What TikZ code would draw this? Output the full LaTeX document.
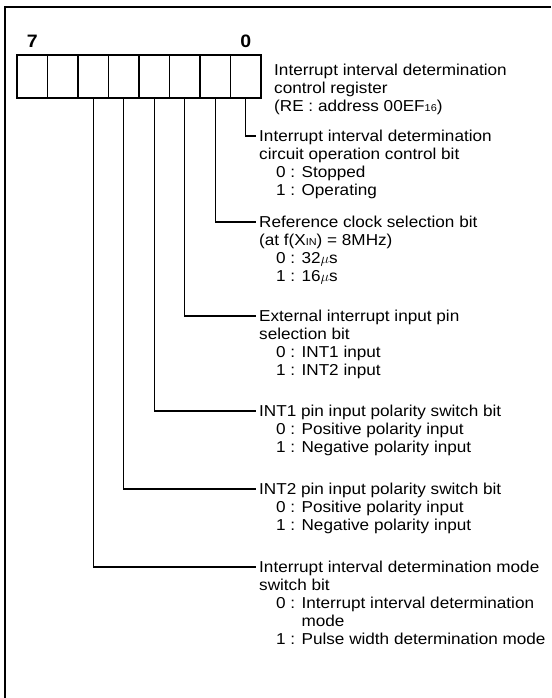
\documentclass[tikz,border=0pt]{standalone}
\usepackage{fontspec}
\setmainfont{Liberation Sans}[FakeStretch=1.085]
\usetikzlibrary{positioning}
\newcommand{\optind}{\hspace*{17pt}}
\newcommand{\smallsub}[1]{{\fontsize{10}{10}\selectfont #1}}

\begin{document}
\begin{tikzpicture}[
    x=1pt, y=-1pt,
    node distance=0pt,
    cell/.style={rectangle, draw, line width=1.6pt, minimum width=30.5pt, minimum height=43pt, inner sep=0pt, outer sep=0pt},
    bitnum/.style={font=\fontsize{18}{18}\selectfont\bfseries, inner sep=0pt},
    desc/.style={anchor=north west, align=left, inner sep=0pt, font=\fontsize{15.8}{18}\selectfont},
    link/.style={line width=1.1pt},
    frame/.style={line width=2.4pt}
  ]
  \useasboundingbox (0,0) rectangle (551,698);

  % Frame
  \draw[frame] (5,698) -- (5,7) -- (551,7);

  % Register, bit 7 to bit 0
  \node[cell] (b7) at (32.25,76.5) {};
  \node[cell, right=of b7] (b6) {};
  \node[cell, right=of b6] (b5) {};
  \node[cell, right=of b5] (b4) {};
  \node[cell, right=of b4] (b3) {};
  \node[cell, right=of b3] (b2) {};
  \node[cell, right=of b2] (b1) {};
  \node[cell, right=of b1] (b0) {};
  \node[bitnum, above=7pt of b7] (n7) {7};
  \node[bitnum, above=7pt of b0] (n0) {0};

  % Register name
  \node[desc] (reg) at (274,64) {Interrupt interval determination\\control register\\(RE : address 00EF\smallsub{16})};

  % Bit descriptions
  \node[desc] (d0) at (259,130) {Interrupt interval determination\\circuit operation control bit\\\optind 0 : Stopped\\\optind 1 : Operating};
  \node[desc] (d1) at (259,216) {Reference clock selection bit\\(at f(X\smallsub{IN}) = 8MHz)\\\optind 0 : 32$\mu$s\\\optind 1 : 16$\mu$s};
  \node[desc] (d2) at (259,310) {External interrupt input pin\\selection bit\\\optind 0 : INT1 input\\\optind 1 : INT2 input};
  \node[desc] (d3) at (259,405) {INT1 pin input polarity switch bit\\\optind 0 : Positive polarity input\\\optind 1 : Negative polarity input};
  \node[desc] (d4) at (259,483) {INT2 pin input polarity switch bit\\\optind 0 : Positive polarity input\\\optind 1 : Negative polarity input};
  \node[desc] (d5) at (259,561) {Interrupt interval determination mode\\switch bit\\\optind 0 : Interrupt interval determination\\\optind\hphantom{0 : }mode\\\optind 1 : Pulse width determination mode};

  % Bit lines
  \draw[link] (b0.south) |- ([xshift=-3pt,yshift=-6pt]d0.north west);
  \draw[link] (b1.south) |- ([xshift=-3pt,yshift=-6pt]d1.north west);
  \draw[link] (b2.south) |- ([xshift=-3pt,yshift=-6pt]d2.north west);
  \draw[link] (b3.south) |- ([xshift=-3pt,yshift=-6pt]d3.north west);
  \draw[link] (b4.south) |- ([xshift=-3pt,yshift=-6pt]d4.north west);
  \draw[link] (b5.south) |- ([xshift=-3pt,yshift=-6pt]d5.north west);
\end{tikzpicture}
\end{document}
